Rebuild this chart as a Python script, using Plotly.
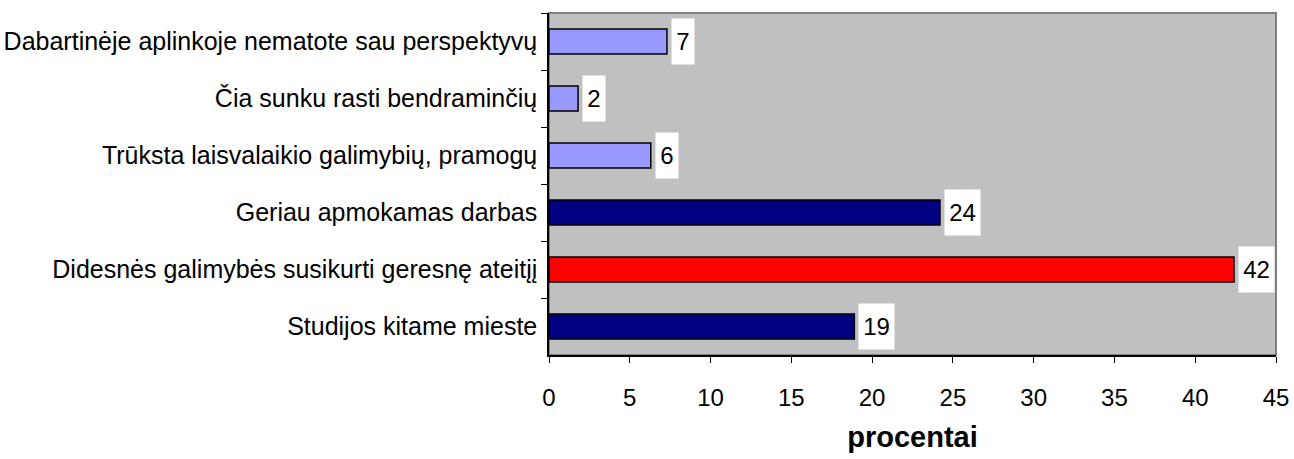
import plotly.graph_objects as go

categories = [
    "Dabartinėje aplinkoje nematote sau perspektyvų",
    "Čia sunku rasti bendraminčių",
    "Trūksta laisvalaikio galimybių, pramogų",
    "Geriau apmokamas darbas",
    "Didesnės galimybės susikurti geresnę ateitįį",
    "Studijos kitame mieste",
]
values = [7.3, 1.8, 6.3, 24.2, 42.4, 18.9]
value_labels = ["7", "2", "6", "24", "42", "19"]
bar_colors = ["#9999FF", "#9999FF", "#9999FF", "#000080", "#FF0000", "#000080"]
x_ticks = [0, 5, 10, 15, 20, 25, 30, 35, 40, 45]

FONT = "Liberation Sans, Arial, sans-serif"

fig = go.Figure()
fig.add_trace(go.Bar(
    x=values, y=categories, orientation="h",
    marker=dict(color=bar_colors, line=dict(color="black", width=1.5)),
    width=0.44, hoverinfo="skip",
))

for cat, v, lab in zip(categories, values, value_labels):
    fig.add_annotation(
        x=v, y=cat, xref="x", yref="y", text=lab, showarrow=False,
        xanchor="left", yanchor="middle", xshift=4,
        bgcolor="white", width=13 * len(lab) + 9, height=45, borderpad=0,
        font=dict(family=FONT, size=24, color="black"),
    )

fig.add_shape(type="rect", xref="x domain", yref="y domain", x0=0, x1=1, y0=0, y1=1,
              line=dict(color="#808080", width=2), layer="below")

fig.update_layout(
    width=1294, height=459,
    margin=dict(l=549, r=18, t=13, b=104),
    paper_bgcolor="white", plot_bgcolor="#C0C0C0",
    showlegend=False,
    font=dict(family=FONT, size=25, color="black"),
    xaxis=dict(
        range=[0, 45], tickvals=x_ticks, showgrid=False, zeroline=False,
        showline=True, linecolor="black", linewidth=1.5,
        ticks="outside", ticklen=6, tickcolor="black",
        tickfont=dict(family=FONT, size=24), ticklabelstandoff=14,
        ticklabeloverflow="allow", automargin=False,
        title=dict(text="<b>procentai</b>", font=dict(family=FONT, size=29), standoff=17),
    ),
    yaxis=dict(
        autorange="reversed", showgrid=False, zeroline=False,
        showline=True, linecolor="black", linewidth=1.5,
        ticks="outside", ticklen=6, tickcolor="black", tickson="boundaries",
        tickfont=dict(family=FONT, size=25), ticklabelstandoff=5,
        automargin=False,
    ),
)

fig.write_html(
    "out.html",
    config={"displayModeBar": False},
    post_script="document.body.style.margin='0';document.body.style.overflow='hidden';",
)
